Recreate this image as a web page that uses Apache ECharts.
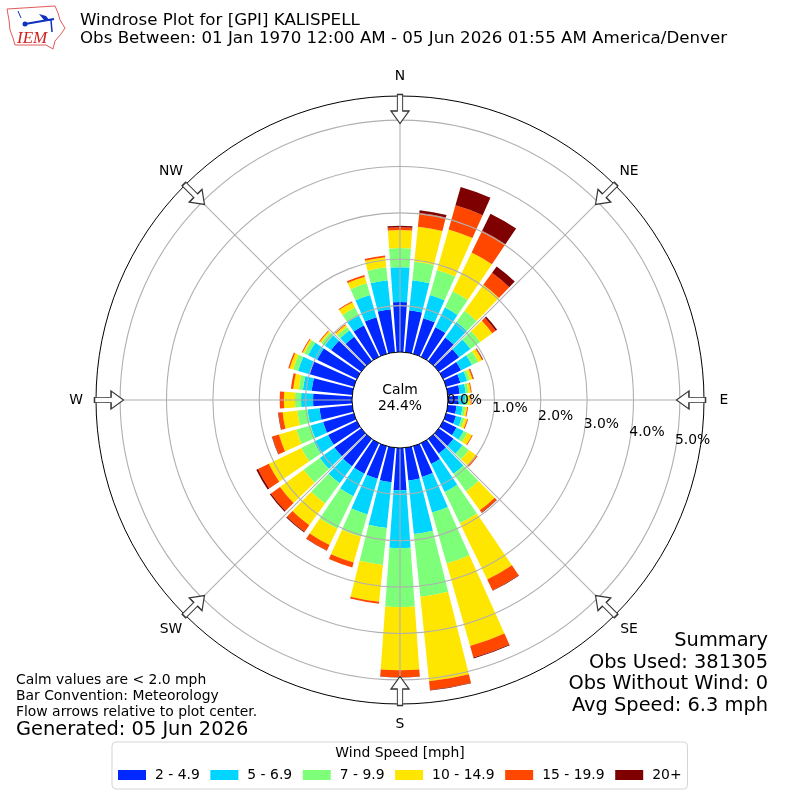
<!DOCTYPE html>
<html><head><meta charset="utf-8">
<style>html,body{margin:0;padding:0;background:#fff}#c{width:800px;height:800px}</style>
<script src="https://cdn.jsdelivr.net/npm/echarts@6/dist/echarts.min.js"></script>
</head><body><div id="c"></div>
<script>
const directions = ['0','10','20','30','40','50','60','70','80','90','100','110','120','130','140','150','160','170','180','190','200','210','220','230','240','250','260','270','280','290','300','310','320','330','340','350'];
const speed2to5 = [1.08,.91,.80,.71,.63,.54,.43,.32,.26,.22,.19,.22,.32,.39,.39,.50,.69,.71,.91,.75,.73,.73,.73,.71,.69,.69,.71,.84,.88,.99,.95,.80,.65,.75,.82,.93];
const speed5to7 = [.75,.65,.52,.47,.41,.30,.26,.15,.13,.15,.13,.13,.17,.24,.54,.67,.80,1.16,1.25,.99,.80,.54,.45,.39,.34,.28,.26,.26,.19,.26,.22,.17,.17,.24,.50,.63];
const speed7to10 = [.41,.41,.56,.39,.30,.26,.15,.06,.06,.06,.06,.06,.09,.17,.47,.75,1.14,1.36,1.27,.80,.50,.78,.54,.43,.30,.32,.22,.13,.09,.11,.09,.09,.09,.19,.26,.28];
const speed10to15 = [.39,.75,.91,.93,.69,.32,.09,.06,.05,.06,.04,.06,.11,.19,.50,1.35,1.85,1.83,1.36,.80,.58,.39,.58,.63,.78,.39,.32,.24,.12,.08,.04,.04,.05,.13,.15,.22];
const speed15to20 = [.06,.30,.54,.52,.32,.09,.02,.02,.02,.02,.02,.02,.02,.04,.06,.26,.26,.19,.15,.04,.11,.13,.17,.24,.26,.15,.09,.09,.05,.03,.02,.02,.02,.02,.04,.04];
const speed20plus = [.03,.06,.41,.41,.17,.04,.01,.01,0,0,0,0,0,0,.01,.01,.02,.01,.01,0,0,.01,.02,.03,.04,.01,.01,0,0,0,0,0,0,0,0,0];
const speedNames = ['2 - 4.9','5 - 6.9','7 - 9.9','10 - 14.9','15 - 19.9','20+'];
const speedValues = [speed2to5,speed5to7,speed7to10,speed10to15,speed15to20,speed20plus];
const speedColors = ['#0028ff','#00d5ff','#7dff7a','#ffe600','#ff4700','#7f0000'];
const compassLabels = ['N','NE','E','SE','S','SW','W','NW'];
const compassAngles = [0,45,90,135,180,225,270,315];
const radialTicks = [0,1,2,3,4,5];
const radialMax = 5.52;
const arrowRadius = 5.24;
const compassLabelRadius = 5.95;

const font = 'DejaVu Sans';
const gridColor = '#b0b0b0';
const txt = (text,left,top,size,extra) => Object.assign({text,left,top,textStyle:{fontFamily:font,fontSize:size,fontWeight:'normal',color:'#000',lineHeight:size*1.15},padding:0},extra||{});
const arrowPath = 'path://M-2.5,-14 L2.5,-14 L2.5,2 L8.5,2 L0,14 L-8.5,2 L-2.5,2 Z';

const chart = echarts.init(document.getElementById('c'),null,{renderer:'canvas'});
const series = speedNames.map((n,i)=>({
  name:n,type:'bar',coordinateSystem:'polar',polarIndex:0,stack:'wind',
  data:speedValues[i],itemStyle:{color:speedColors[i]},barWidth:'82%',z:1,silent:true,animation:false
}));
// grid rings and spokes above the bars, placed through the polar scales
series.push({
  type:'custom',coordinateSystem:'polar',polarIndex:1,z:3,silent:true,animation:false,clip:false,
  data:radialTicks.slice(1).map(t=>[t,0]),
  renderItem:(params,api)=>{
    const p=api.coord([api.value(0),0]);
    const cs=params.coordSys;
    return {type:'circle',shape:{cx:cs.cx,cy:cs.cy,r:Math.hypot(p[0]-cs.cx,p[1]-cs.cy)},
      style:{fill:'none',stroke:gridColor,lineWidth:1.1}};
  }
});
series.push({
  type:'custom',coordinateSystem:'polar',polarIndex:1,z:3,silent:true,animation:false,clip:false,
  data:compassAngles.map(a=>[radialMax,a]),
  renderItem:(params,api)=>{
    const a=api.value(1);
    const p0=api.coord([0,a]),p1=api.coord([radialMax,a]);
    return {type:'line',shape:{x1:p0[0],y1:p0[1],x2:p1[0],y2:p1[1]},
      style:{stroke:gridColor,lineWidth:1.1,fill:'none'}};
  }
});
series.push({
  type:'scatter',coordinateSystem:'polar',polarIndex:1,z:6,silent:true,animation:false,clip:false,
  symbol:arrowPath,symbolSize:[18,29],symbolKeepAspect:false,
  itemStyle:{color:'#fff',borderColor:'#333',borderWidth:1.2,opacity:1},
  data:compassAngles.map(a=>({value:[arrowRadius,a],symbolRotate:-a}))
});
series.push({
  type:'scatter',coordinateSystem:'polar',polarIndex:1,z:7,silent:true,animation:false,clip:false,
  symbolSize:1,itemStyle:{color:'rgba(0,0,0,0)',opacity:1},
  label:{show:true,position:'inside',offset:[17,-8],fontFamily:font,fontSize:13.9,color:'#000',textBorderWidth:0,
    formatter:p=>p.value[0].toFixed(1)+'%'},
  data:radialTicks.map(t=>[t,100])
});
series.push({
  type:'scatter',coordinateSystem:'polar',polarIndex:1,z:7,silent:true,animation:false,clip:false,
  symbolSize:1,itemStyle:{color:'rgba(0,0,0,0)',opacity:1},
  label:{show:true,position:'inside',fontFamily:font,fontSize:13.9,color:'#000',textBorderWidth:0,
    formatter:p=>compassLabels[p.dataIndex]},
  data:compassAngles.map(a=>[compassLabelRadius,a])
});
const option = {
  animation:false,backgroundColor:'#fff',
  polar:[{center:[400,400],radius:[48,304]},{center:[400,400],radius:[48,304]}],
  angleAxis:[
    {polarIndex:0,type:'category',data:directions,startAngle:95,clockwise:true,
     axisLine:{show:false},axisTick:{show:false},axisLabel:{show:false},splitLine:{show:false}},
    {polarIndex:1,type:'value',min:0,max:360,interval:45,startAngle:90,clockwise:true,z:4,
     axisLine:{show:true,lineStyle:{color:'#000',width:1}},axisTick:{show:false},
     axisLabel:{show:false},splitLine:{show:false},splitArea:{show:false}}
  ],
  radiusAxis:[
    {polarIndex:0,type:'value',min:0,max:radialMax,axisLine:{show:false},axisTick:{show:false},axisLabel:{show:false},splitLine:{show:false}},
    {polarIndex:1,type:'value',min:0,max:radialMax,interval:1,axisLine:{show:false},axisTick:{show:false},axisLabel:{show:false},splitLine:{show:false}}
  ],
  title:[
    txt('Windrose Plot for [GPI] KALISPELL',80,11,16.67),
    txt('Obs Between: 01 Jan 1970 12:00 AM - 05 Jun 2026 01:55 AM America/Denver',80,29,16.67),
    txt('Calm values are < 2.0 mph',16,672,13.9),
    txt('Bar Convention: Meteorology',16,688,13.9),
    txt('Flow arrows relative to plot center.',16,704,13.9),
    txt('Generated: 05 Jun 2026',16,719,19.4),
    txt('Summary',null,630,19.4,{right:32}),
    txt('Obs Used: 381305',null,652,19.4,{right:32}),
    txt('Obs Without Wind: 0',null,673,19.4,{right:32}),
    txt('Avg Speed: 6.3 mph',null,695,19.4,{right:32}),
    txt('Wind Speed [mph]',null,745,13.9,{left:'center',z:10})
  ],
  legend:{
    data:speedNames,left:112,top:742,orient:'horizontal',itemWidth:28,itemHeight:10,itemGap:10.6,icon:'rect',
    padding:[26,6,7,6],borderColor:'#d5d5d5',borderWidth:1,borderRadius:4,backgroundColor:'#fff',
    textStyle:{fontFamily:font,fontSize:13.9,color:'#000',padding:[0,0,0,4]}
  },
  graphic:[
    {type:'text',left:'center',top:383,z:20,style:{text:'Calm',fontFamily:font,fontSize:13.9,fill:'#000'}},
    {type:'text',left:'center',top:399,z:20,style:{text:'24.4%',fontFamily:font,fontSize:13.9,fill:'#000'}},
    {type:'polyline',z:20,shape:{points:[[7,9],[55,6],[58,13],[60,20],[65,28],[61,34],[55,41],[53,49],[46,45],[15,45],[13,38],[10,30],[9,20],[7,9]]},style:{stroke:'#e05a5a',lineWidth:1,fill:'none'}},
    {type:'line',z:20,shape:{x1:25,y1:24,x2:54,y2:19},style:{stroke:'#1030c0',lineWidth:2}},
    {type:'polygon',z:20,shape:{points:[[39,14],[46,16],[50,21],[44,20]]},style:{fill:'#1030c0'}},
    {type:'line',z:20,shape:{x1:18,y1:11,x2:21,y2:18},style:{stroke:'#1030c0',lineWidth:1}},
    {type:'line',z:20,shape:{x1:51,y1:20,x2:52,y2:32},style:{stroke:'#1030c0',lineWidth:1.5}},
    {type:'circle',z:20,shape:{cx:25,cy:24,r:2.5},style:{fill:'#1030c0'}},
    {type:'text',z:20,left:17,top:30,style:{text:'IEM',fontFamily:'Liberation Serif',fontStyle:'italic',fontSize:17,fill:'#d02020'}}
  ],
  series
};
chart.setOption(option);
</script></body></html>
